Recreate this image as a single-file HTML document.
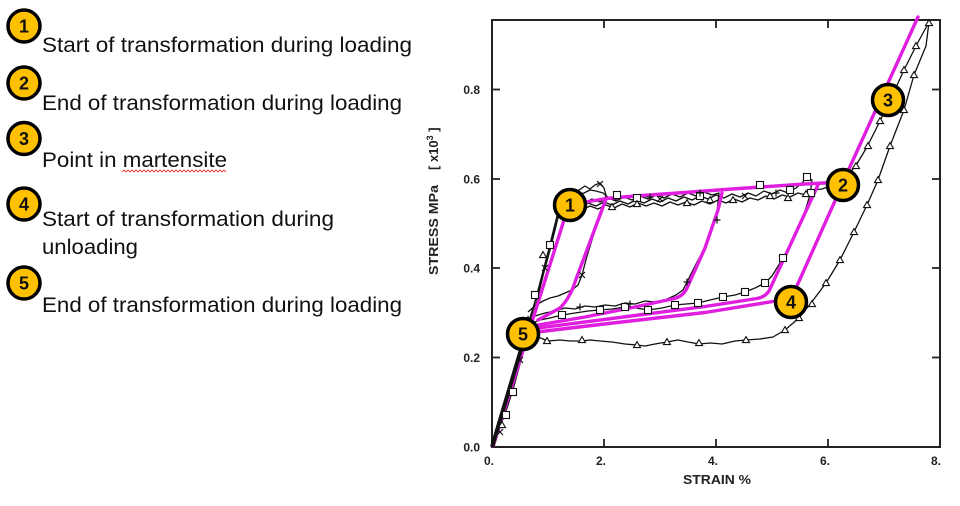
<!DOCTYPE html>
<html>
<head>
<meta charset="utf-8">
<style>
  html,body{margin:0;padding:0;background:#fff;}
  svg{display:block;}
  .lg{font-family:"Liberation Sans",sans-serif;font-size:21px;fill:#111;}
  .num{font-family:"Liberation Sans",sans-serif;font-size:18px;font-weight:bold;fill:#111;text-anchor:middle;}
  .tk{font-family:"Liberation Sans",sans-serif;font-size:12px;font-weight:bold;fill:#222;}
  .ttl{font-family:"Liberation Sans",sans-serif;font-size:13px;font-weight:bold;fill:#222;}
  .bk{fill:none;stroke:#111;stroke-width:1.3;stroke-linejoin:round;}
  .mg{fill:none;stroke:#e01ee0;stroke-width:3.4;stroke-linejoin:round;stroke-linecap:round;}
  .circ{fill:#FFC000;stroke:#000;stroke-width:3.5;}
</style>
</head>
<body>
<svg width="960" height="506" viewBox="0 0 960 506" xmlns="http://www.w3.org/2000/svg">
<defs>
  <path id="tri" d="M-3.5,2.6 L3.5,2.6 L0,-3.4 Z" fill="#fff" stroke="#111" stroke-width="1.1"/>
  <rect id="sq" x="-3.5" y="-3.5" width="7" height="7" fill="#fff" stroke="#111" stroke-width="1.1"/>
  <path id="xm" d="M-3,-3 L3,3 M-3,3 L3,-3" stroke="#111" stroke-width="1.2" fill="none"/>
  <path id="pm" d="M-3.5,0 L3.5,0 M0,-3.5 L0,3.5" stroke="#111" stroke-width="1.2" fill="none"/>
</defs>

<!-- Legend -->
<circle class="circ" cx="24" cy="26" r="16"/>
<text class="num" x="24" y="32.5">1</text>
<text class="lg" x="42" y="52" textLength="370" lengthAdjust="spacingAndGlyphs">Start of transformation during loading</text>

<circle class="circ" cx="24" cy="83" r="16"/>
<text class="num" x="24" y="89.5">2</text>
<text class="lg" x="42" y="110" textLength="360" lengthAdjust="spacingAndGlyphs">End of transformation during loading</text>

<circle class="circ" cx="24" cy="138.5" r="16"/>
<text class="num" x="24" y="145">3</text>
<text class="lg" x="42" y="167" textLength="185" lengthAdjust="spacingAndGlyphs">Point in martensite</text>
<polyline points="122,172 124,170 126,172 128,170 130,172 132,170 134,172 136,170 138,172 140,170 142,172 144,170 146,172 148,170 150,172 152,170 154,172 156,170 158,172 160,170 162,172 164,170 166,172 168,170 170,172 172,170 174,172 176,170 178,172 180,170 182,172 184,170 186,172 188,170 190,172 192,170 194,172 196,170 198,172 200,170 202,172 204,170 206,172 208,170 210,172 212,170 214,172 216,170 218,172 220,170 222,172 224,170 226,172" fill="none" stroke="#e03a3a" stroke-width="0.9"/>

<circle class="circ" cx="24" cy="204" r="16"/>
<text class="num" x="24" y="210.5">4</text>
<text class="lg" x="42" y="226" textLength="292" lengthAdjust="spacingAndGlyphs">Start of transformation during</text>
<text class="lg" x="42" y="254" textLength="96" lengthAdjust="spacingAndGlyphs">unloading</text>

<circle class="circ" cx="24" cy="283" r="16"/>
<text class="num" x="24" y="289.5">5</text>
<text class="lg" x="42" y="312" textLength="360" lengthAdjust="spacingAndGlyphs">End of transformation during loading</text>

<!-- Chart frame -->
<rect x="492" y="20" width="448" height="427" fill="none" stroke="#222" stroke-width="2"/>
<g stroke="#222" stroke-width="1.8">
  <line x1="604" y1="447" x2="604" y2="439"/>
  <line x1="716" y1="447" x2="716" y2="439"/>
  <line x1="828" y1="447" x2="828" y2="439"/>
  <line x1="604" y1="20" x2="604" y2="28"/>
  <line x1="716" y1="20" x2="716" y2="28"/>
  <line x1="828" y1="20" x2="828" y2="28"/>
  <line x1="492" y1="357.5" x2="500" y2="357.5"/>
  <line x1="492" y1="268" x2="500" y2="268"/>
  <line x1="492" y1="179" x2="500" y2="179"/>
  <line x1="492" y1="89.5" x2="500" y2="89.5"/>
  <line x1="940" y1="357.5" x2="932" y2="357.5"/>
  <line x1="940" y1="268" x2="932" y2="268"/>
  <line x1="940" y1="179" x2="932" y2="179"/>
  <line x1="940" y1="89.5" x2="932" y2="89.5"/>
</g>

<!-- Tick labels -->
<g class="tk" text-anchor="middle">
  <text x="489" y="465">0.</text>
  <text x="601" y="465">2.</text>
  <text x="713" y="465">4.</text>
  <text x="825" y="465">6.</text>
  <text x="936" y="465">8.</text>
</g>
<g class="tk" text-anchor="end">
  <text x="480" y="451.5">0.0</text>
  <text x="480" y="362">0.2</text>
  <text x="480" y="272.5">0.4</text>
  <text x="480" y="183.5">0.6</text>
  <text x="480" y="94">0.8</text>
</g>

<!-- Axis titles -->
<text class="ttl" x="717" y="484" text-anchor="middle" textLength="68" lengthAdjust="spacingAndGlyphs">STRAIN %</text>
<text class="ttl" transform="translate(438,275) rotate(-90)" x="0" y="0" font-size="13.5" textLength="90" lengthAdjust="spacingAndGlyphs">STRESS MPa</text>
<text class="ttl" transform="translate(438,170) rotate(-90)" x="0" y="0" font-size="13.5">[ x10<tspan font-size="9" dy="-5">3</tspan><tspan dy="5"> ]</tspan></text>

<!-- Black experimental curves -->
<polyline class="bk" points="492,447 498,428 505,410 512,388 518,366 524,344 530,322 536,298 542,275 548,252 553,232 557,216"/>
<polyline class="bk" points="494,447 500,427 507,408 514,386 520,364 526,342 532,320 538,296 544,272 550,250 555,230 559,214"/>
<polyline class="bk" points="492,447 525,334 540,285 550,250 557,216 562,208 567,200 573,193 579,190 585,186 590,189 595,185 600,183 604,188 606,195 603,205 598,220 592,240 587,256 582,275 578,285 572,290 565,293 558,296 550,298 543,301 536,305 528,312"/>
<polyline class="bk" points="557,214 563,206 570,199 577,195 584,193 590,190 596,191 603,193 610,199 617,200"/>
<polyline class="bk" points="557,216 563,206 570,203 578,200 585,203 592,199 600,202 608,198 616,201 624,197 632,200 640,196 648,199 656,195 664,198 672,194 680,197 688,193 696,196 704,192 712,195 719,193 717,212 713,225 705,247 695,266 687,282 683,290 676,295 665,300 655,302 645,301 635,304 625,303 615,306 605,305 595,307 585,306 575,309 565,308 555,311 545,313 535,316 527,320"/>
<polyline class="bk" points="557,216 565,209 572,205 580,208 588,203 596,206 604,202 612,205 620,201 628,204 636,200 644,203 652,199 660,202 668,198 676,201 684,197 692,200 700,196 708,199 716,195 724,198 732,194 740,197 748,193 756,196 764,191 772,194 780,190 788,193 796,188 802,183 807,177 812,180 810,195 806,208 798,230 790,247 783,258 772,276 765,283 755,288 745,292 735,295 723,297 710,300 698,303 686,304 675,305 662,308 648,310 636,308 625,307 612,309 600,310 588,311 575,313 562,315 550,318 540,320 530,324"/>
<polyline class="bk" points="557,216 566,210 574,207 582,210 590,206 598,209 606,205 614,208 622,204 630,207 638,203 646,206 654,203 662,206 670,202 678,205 686,202 694,205 702,201 710,204 718,200 726,203 734,199 742,202 750,198 758,200 766,196 774,199 782,195 790,197 798,193 806,195 814,190 822,189 830,186 838,182 846,176 855,167 867,147 880,121 892,96 904,70 916,46 929,22 926,46 914,75 904,110 890,146 878,180 867,205 854,232 840,260 826,283 811,303 799,318 785,330 773,337 760,339 746,340 735,341 722,344 710,343 699,344 688,342 678,340 667,342 655,344 645,346 637,345 625,344 612,342 600,341 590,340 582,341 570,341 560,340 548,341 538,337 528,332"/>

<!-- Magenta model curves -->
<path class="mg" d="M493,446 L564,220 Q567,205 586,202 L606,198.5 L635,196 L685,192.5 L725,189.5 L805,184 L843,182 L918,17"/>
<path class="mg" d="M843,183 L796,288 Q791,299 776,301 L705,312.5 L600,324.5 L537,332"/>
<path class="mg" d="M818,185 L769,291 Q765,297 757,298.5 L705,306.5 L538,328"/>
<path class="mg" d="M722,193 L718,210 L705,248 L687,288 Q683,297 672,299 L635,307 L585,317 L538,325"/>
<path class="mg" d="M606,199 L575,282 Q570,298 560,308 L538,320"/>

<!-- thick overlapping loading near origin -->
<line x1="492" y1="447" x2="525" y2="336" stroke="#111" stroke-width="4"/>

<!-- Markers -->
<g>
  <use href="#sq" x="506" y="415"/><use href="#sq" x="513" y="392"/><use href="#sq" x="535" y="295"/><use href="#sq" x="550" y="245"/>
  <use href="#sq" x="617" y="195"/><use href="#sq" x="637" y="198"/><use href="#sq" x="700" y="196"/><use href="#sq" x="760" y="185"/>
  <use href="#sq" x="790" y="190"/><use href="#sq" x="807" y="177"/><use href="#sq" x="811" y="193"/>
  <use href="#sq" x="783" y="258"/><use href="#sq" x="765" y="283"/><use href="#sq" x="745" y="292"/><use href="#sq" x="723" y="297"/>
  <use href="#sq" x="698" y="303"/><use href="#sq" x="675" y="305"/><use href="#sq" x="648" y="310"/><use href="#sq" x="625" y="307"/>
  <use href="#sq" x="600" y="310"/><use href="#sq" x="562" y="315"/>

  <use href="#tri" x="502" y="425"/><use href="#tri" x="528" y="320"/><use href="#tri" x="543" y="255"/>
  <use href="#tri" x="612" y="207"/><use href="#tri" x="637" y="204"/><use href="#tri" x="687" y="203"/><use href="#tri" x="710" y="200"/>
  <use href="#tri" x="733" y="200"/><use href="#tri" x="770" y="196"/><use href="#tri" x="788" y="198"/><use href="#tri" x="806" y="194"/>
  <use href="#tri" x="856" y="166"/><use href="#tri" x="868" y="146"/><use href="#tri" x="880" y="121"/><use href="#tri" x="904" y="70"/>
  <use href="#tri" x="916" y="46"/><use href="#tri" x="929" y="23"/>
  <use href="#tri" x="914" y="75"/><use href="#tri" x="904" y="110"/><use href="#tri" x="890" y="146"/><use href="#tri" x="878" y="180"/>
  <use href="#tri" x="867" y="205"/><use href="#tri" x="854" y="232"/><use href="#tri" x="840" y="260"/><use href="#tri" x="826" y="283"/>
  <use href="#tri" x="812" y="304"/><use href="#tri" x="799" y="318"/><use href="#tri" x="785" y="330"/><use href="#tri" x="746" y="340"/>
  <use href="#tri" x="699" y="343"/><use href="#tri" x="667" y="342"/><use href="#tri" x="637" y="345"/><use href="#tri" x="582" y="340"/>
  <use href="#tri" x="547" y="341"/>

  <use href="#xm" x="500" y="432"/><use href="#xm" x="520" y="360"/><use href="#xm" x="545" y="268"/><use href="#xm" x="573" y="193"/>
  <use href="#xm" x="600" y="184"/><use href="#xm" x="582" y="275"/><use href="#xm" x="660" y="199"/><use href="#xm" x="745" y="196"/>

  <use href="#pm" x="650" y="197"/><use href="#pm" x="700" y="193"/><use href="#pm" x="717" y="220"/><use href="#pm" x="687" y="282"/>
  <use href="#pm" x="630" y="304"/><use href="#pm" x="580" y="307"/><use href="#pm" x="776" y="193"/>
</g>

<!-- Chart callout circles -->
<circle class="circ" cx="570" cy="205" r="15.5"/>
<text class="num" x="570" y="211.5">1</text>
<circle class="circ" cx="843" cy="185" r="15.5"/>
<text class="num" x="843" y="191.5">2</text>
<circle class="circ" cx="888" cy="100" r="15.5"/>
<text class="num" x="888" y="106.5">3</text>
<circle class="circ" cx="791" cy="302" r="15.5"/>
<text class="num" x="791" y="308.5">4</text>
<circle class="circ" cx="523" cy="334" r="15.5"/>
<text class="num" x="523" y="340.5">5</text>
</svg>
</body>
</html>
